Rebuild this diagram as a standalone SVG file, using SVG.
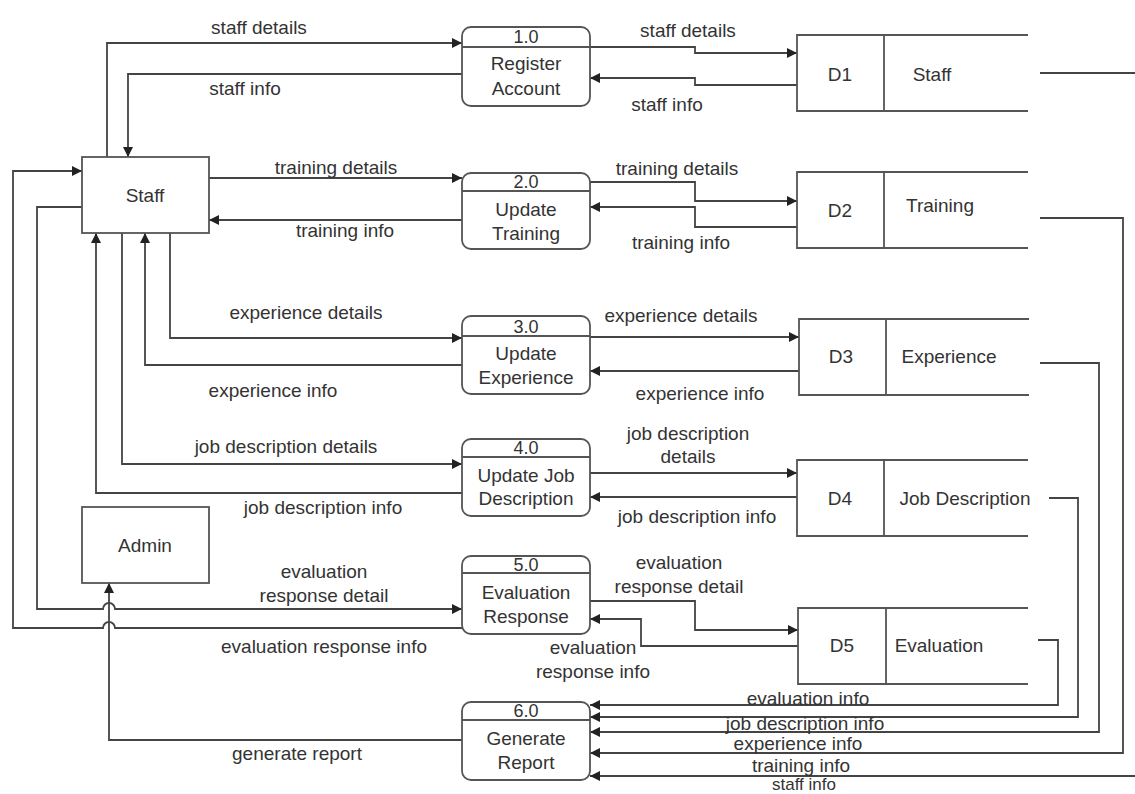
<svg xmlns="http://www.w3.org/2000/svg" width="1135" height="794" viewBox="0 0 1135 794">
<defs>
<style>
.box{fill:#fff;stroke:#555;stroke-width:1.8}
.ln{fill:none;stroke:#444;stroke-width:1.8}
.ds{fill:none;stroke:#555;stroke-width:1.8}
text{font-family:"Liberation Sans",Arial,sans-serif;font-size:19px;fill:#333;text-anchor:middle;dominant-baseline:central}
.num{font-size:18px}
.sm{font-size:17px}
</style>
<marker id="ah" viewBox="0 0 10 10" refX="10" refY="5" markerWidth="10" markerHeight="10" markerUnits="userSpaceOnUse" orient="auto">
<path d="M0,0 L10,5 L0,10 z" fill="#222"/>
</marker>
</defs>
<rect width="1135" height="794" fill="#fff"/>

<g id="connectors">
<path class="ln" d="M107,157 V43 H462" marker-end="url(#ah)"/>
<path class="ln" d="M462,74 H128 V157" marker-end="url(#ah)"/>
<path class="ln" d="M209,178 H462" marker-end="url(#ah)"/>
<path class="ln" d="M462,220 H209" marker-end="url(#ah)"/>
<path class="ln" d="M170,233 V338 H462" marker-end="url(#ah)"/>
<path class="ln" d="M462,365 H145 V233" marker-end="url(#ah)"/>
<path class="ln" d="M122,233 V464 H462" marker-end="url(#ah)"/>
<path class="ln" d="M462,493 H96 V233" marker-end="url(#ah)"/>
<path class="ln" d="M82,207 H37 V609 H103 A6,6 0 0 1 115,609 H462" marker-end="url(#ah)"/>
<path class="ln" d="M462,628 H115 A6,6 0 0 0 103,628 H13 V171 H82" marker-end="url(#ah)"/>
<path class="ln" d="M462,740 H109 V583" marker-end="url(#ah)"/>

<path class="ln" d="M590,47 H695 V53 H797" marker-end="url(#ah)"/>
<path class="ln" d="M797,85 H695 V78 H590" marker-end="url(#ah)"/>
<path class="ln" d="M590,182 H695 V201 H797" marker-end="url(#ah)"/>
<path class="ln" d="M797,227 H695 V207 H590" marker-end="url(#ah)"/>
<path class="ln" d="M590,337 H799" marker-end="url(#ah)"/>
<path class="ln" d="M799,371 H590" marker-end="url(#ah)"/>
<path class="ln" d="M590,473 H797" marker-end="url(#ah)"/>
<path class="ln" d="M797,497 H590" marker-end="url(#ah)"/>
<path class="ln" d="M590,601 H695 V630 H798" marker-end="url(#ah)"/>
<path class="ln" d="M798,646 H641 V619 H590" marker-end="url(#ah)"/>

<path class="ln" d="M1038,640 H1058 V705 H590" marker-end="url(#ah)"/>
<path class="ln" d="M1049,498 H1078 V717 H590" marker-end="url(#ah)"/>
<path class="ln" d="M1040,363 H1099 V732 H590" marker-end="url(#ah)"/>
<path class="ln" d="M1040,218 H1123 V753 H590" marker-end="url(#ah)"/>
<path class="ln" d="M1040,73 H1140 V776 H590" marker-end="url(#ah)"/>

<text x="259" y="27">staff details</text>
<text x="245" y="88">staff info</text>
<text x="336" y="167">training details</text>
<text x="345" y="230">training info</text>
<text x="306" y="312">experience details</text>
<text x="273" y="390">experience info</text>
<text x="286" y="446">job description details</text>
<text x="323" y="507">job description info</text>
<text x="324" y="571">evaluation</text>
<text x="324" y="595">response detail</text>
<text x="324" y="646">evaluation response info</text>
<text x="297" y="753">generate report</text>

<text x="688" y="30">staff details</text>
<text x="667" y="104">staff info</text>
<text x="677" y="168">training details</text>
<text x="681" y="242">training info</text>
<text x="681" y="315">experience details</text>
<text x="700" y="393">experience info</text>
<text x="688" y="433">job description</text>
<text x="688" y="456">details</text>
<text x="697" y="516">job description info</text>
<text x="679" y="562">evaluation</text>
<text x="679" y="586">response detail</text>
<text x="593" y="647">evaluation</text>
<text x="593" y="671">response info</text>
<text x="808" y="698">evaluation info</text>
<text x="805" y="723">job description info</text>
<text x="798" y="743">experience info</text>
<text x="801" y="765">training info</text>
<text class="sm" x="804" y="784">staff info</text>
</g>

<g id="staff">
<rect class="box" x="82" y="157" width="127" height="76"/>
<text x="145" y="195">Staff</text>
</g>
<g id="admin">
<rect class="box" x="82" y="507" width="127" height="76"/>
<text x="145" y="545">Admin</text>
</g>

<g id="p1">
<rect class="box" x="462" y="27" width="128" height="79" rx="9"/>
<line class="ds" x1="462" y1="47" x2="590" y2="47"/>
<text class="num" x="526" y="37">1.0</text>
<text x="526" y="63">Register</text>
<text x="526" y="88">Account</text>
</g>
<g id="p2">
<rect class="box" x="462" y="173" width="128" height="76" rx="9"/>
<line class="ds" x1="462" y1="191" x2="590" y2="191"/>
<text class="num" x="526" y="182">2.0</text>
<text x="526" y="209">Update</text>
<text x="526" y="233">Training</text>
</g>
<g id="p3">
<rect class="box" x="462" y="316" width="128" height="78" rx="9"/>
<line class="ds" x1="462" y1="336" x2="590" y2="336"/>
<text class="num" x="526" y="327">3.0</text>
<text x="526" y="353">Update</text>
<text x="526" y="377">Experience</text>
</g>
<g id="p4">
<rect class="box" x="462" y="439" width="128" height="77" rx="9"/>
<line class="ds" x1="462" y1="457" x2="590" y2="457"/>
<text class="num" x="526" y="448">4.0</text>
<text x="526" y="475">Update Job</text>
<text x="526" y="498">Description</text>
</g>
<g id="p5">
<rect class="box" x="462" y="556" width="128" height="78" rx="9"/>
<line class="ds" x1="462" y1="573" x2="590" y2="573"/>
<text class="num" x="526" y="565">5.0</text>
<text x="526" y="592">Evaluation</text>
<text x="526" y="616">Response</text>
</g>
<g id="p6">
<rect class="box" x="462" y="702" width="128" height="78" rx="9"/>
<line class="ds" x1="462" y1="720" x2="590" y2="720"/>
<text class="num" x="526" y="711">6.0</text>
<text x="526" y="738">Generate</text>
<text x="526" y="762">Report</text>
</g>

<g id="d1">
<path class="ds" d="M1028,35 H797 V111 H1028 M884,35 V111"/>
<text x="840" y="74">D1</text>
<text x="932" y="74">Staff</text>
</g>
<g id="d2">
<path class="ds" d="M1028,172 H797 V248 H1028 M884,172 V248"/>
<text x="840" y="210">D2</text>
<text x="940" y="205">Training</text>
</g>
<g id="d3">
<path class="ds" d="M1029,319 H799 V395 H1029 M886,319 V395"/>
<text x="841" y="356">D3</text>
<text x="949" y="356">Experience</text>
</g>
<g id="d4">
<path class="ds" d="M1028,460 H797 V536 H1028 M884,460 V536"/>
<text x="840" y="498">D4</text>
<text x="965" y="498">Job Description</text>
</g>
<g id="d5">
<path class="ds" d="M1028,608 H798 V684 H1028 M886,608 V684"/>
<text x="842" y="645">D5</text>
<text x="939" y="645">Evaluation</text>
</g>
</svg>
